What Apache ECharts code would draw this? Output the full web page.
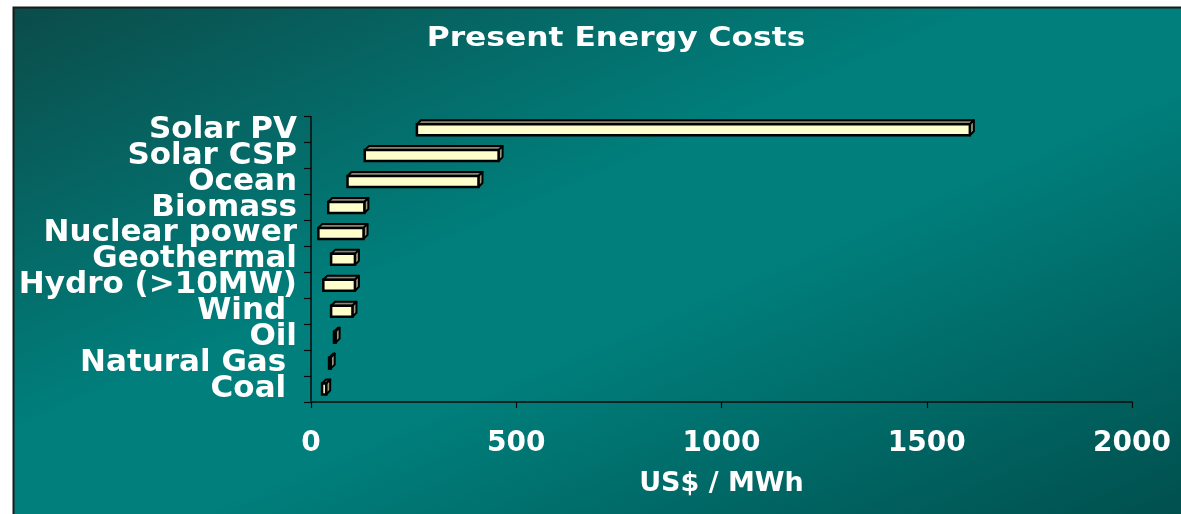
<!DOCTYPE html>
<html>
<head>
<meta charset="utf-8">
<script src="https://cdn.jsdelivr.net/npm/echarts@6/dist/echarts.min.js"></script>
<style>
  html, body { margin: 0; padding: 0; background: #ffffff; }
  #chart { width: 1181px; height: 514px; }
</style>
</head>
<body>
<div id="chart"></div>
<script>
// Categories from top to bottom
const categories = ['Solar PV', 'Solar CSP', 'Ocean', 'Biomass', 'Nuclear power', 'Geothermal', 'Hydro (>10MW)', 'Wind ', 'Oil', 'Natural Gas ', 'Coal '];
// Cost range (US$ / MWh): low and high end of each bar
const lowCost  = [258, 131, 89, 42, 18, 49, 30, 49, 56, 44, 27];
const highCost = [1605, 457, 408, 130, 128, 107, 107, 101, 60, 48, 37];
// X axis ticks
const xTicks = [0, 500, 1000, 1500, 2000];

const chart = echarts.init(document.getElementById('chart'));

const FONT = 'DejaVu Sans';
const seriesData = categories.map((c, i) => [i, lowCost[i], highCost[i]]);

function renderItem(params, api) {
  const c = api.value(0);
  const p0 = api.coord([api.value(1), c]);
  const p1 = api.coord([api.value(2), c]);
  const d = 4;
  const x0 = p0[0], x1 = p1[0];
  const yT = p0[1] - 5.5, yB = p0[1] + 5.5;
  return {
    type: 'group',
    children: [
      { type: 'polygon', shape: { points: [[x0, yT], [x0 + d, yT - d], [x1 + d, yT - d], [x1, yT]] },
        style: { fill: '#8a8770', stroke: '#000', lineWidth: 2, lineJoin: 'round' } },
      { type: 'polygon', shape: { points: [[x1, yT], [x1 + d, yT - d], [x1 + d, yB - d], [x1, yB]] },
        style: { fill: '#9c9880', stroke: '#000', lineWidth: 2, lineJoin: 'round' } },
      { type: 'rect', shape: { x: x0, y: yT, width: Math.max(x1 - x0, 0.5), height: yB - yT },
        style: { fill: '#ffffcc', stroke: '#000', lineWidth: 2.5 } }
    ]
  };
}

const option = {
  backgroundColor: '#ffffff',
  animation: false,
  graphic: [
    {
      type: 'rect', z: -10, silent: true,
      shape: { x: 13.5, y: 7.5, width: 1190, height: 520 },
      style: {
        fill: new echarts.graphic.LinearGradient(412, -166, 782, 686, [
          { offset: 0, color: '#0b4c4a' },
          { offset: 0.42, color: '#007f7c' },
          { offset: 0.58, color: '#007f7c' },
          { offset: 1, color: '#00504e' }
        ], true),
        stroke: '#1a1a1a', lineWidth: 2
      }
    },
    {
      type: 'text', z: 10, x: 616, y: 25, scaleX: 1.16, originX: 0, originY: 0,
      style: {
        text: 'Present Energy Costs', fill: '#ffffff',
        font: 'bold 27px "DejaVu Sans"', textAlign: 'center', textVerticalAlign: 'top'
      }
    }
  ],
  grid: { left: 311, right: 49, top: 116.7, bottom: 112, containLabel: false },
  xAxis: {
    type: 'value', min: 0, max: 2000, interval: 500,
    name: 'US$ / MWh', nameLocation: 'middle', nameGap: 68,
    nameTextStyle: { color: '#ffffff', fontFamily: FONT, fontWeight: 'bold', fontSize: 27 },
    axisLine: { show: true, lineStyle: { color: '#0a0a0a', width: 1.5 } },
    axisTick: { show: true, length: 6, lineStyle: { color: '#0a0a0a', width: 1.2 } },
    axisLabel: {
      color: '#ffffff', fontFamily: FONT, fontWeight: 'bold', fontSize: 28, margin: 28,
      formatter: v => xTicks.includes(v) ? String(v) : ''
    },
    splitLine: { show: false }
  },
  yAxis: {
    type: 'category', data: categories, inverse: true,
    axisLine: { show: true, lineStyle: { color: '#0a0a0a', width: 1.5 } },
    axisTick: { show: true, length: 7, lineStyle: { color: '#0a0a0a', width: 1.2 } },
    axisLabel: { color: '#ffffff', fontFamily: FONT, fontWeight: 'bold', fontSize: 31, margin: 14, interval: 0, padding: [5, 0, 0, 0] },
    splitLine: { show: false }
  },
  series: [{
    type: 'custom',
    renderItem: renderItem,
    encode: { x: [1, 2], y: 0 },
    data: seriesData,
    clip: false
  }]
};

chart.setOption(option);
</script>
</body>
</html>
